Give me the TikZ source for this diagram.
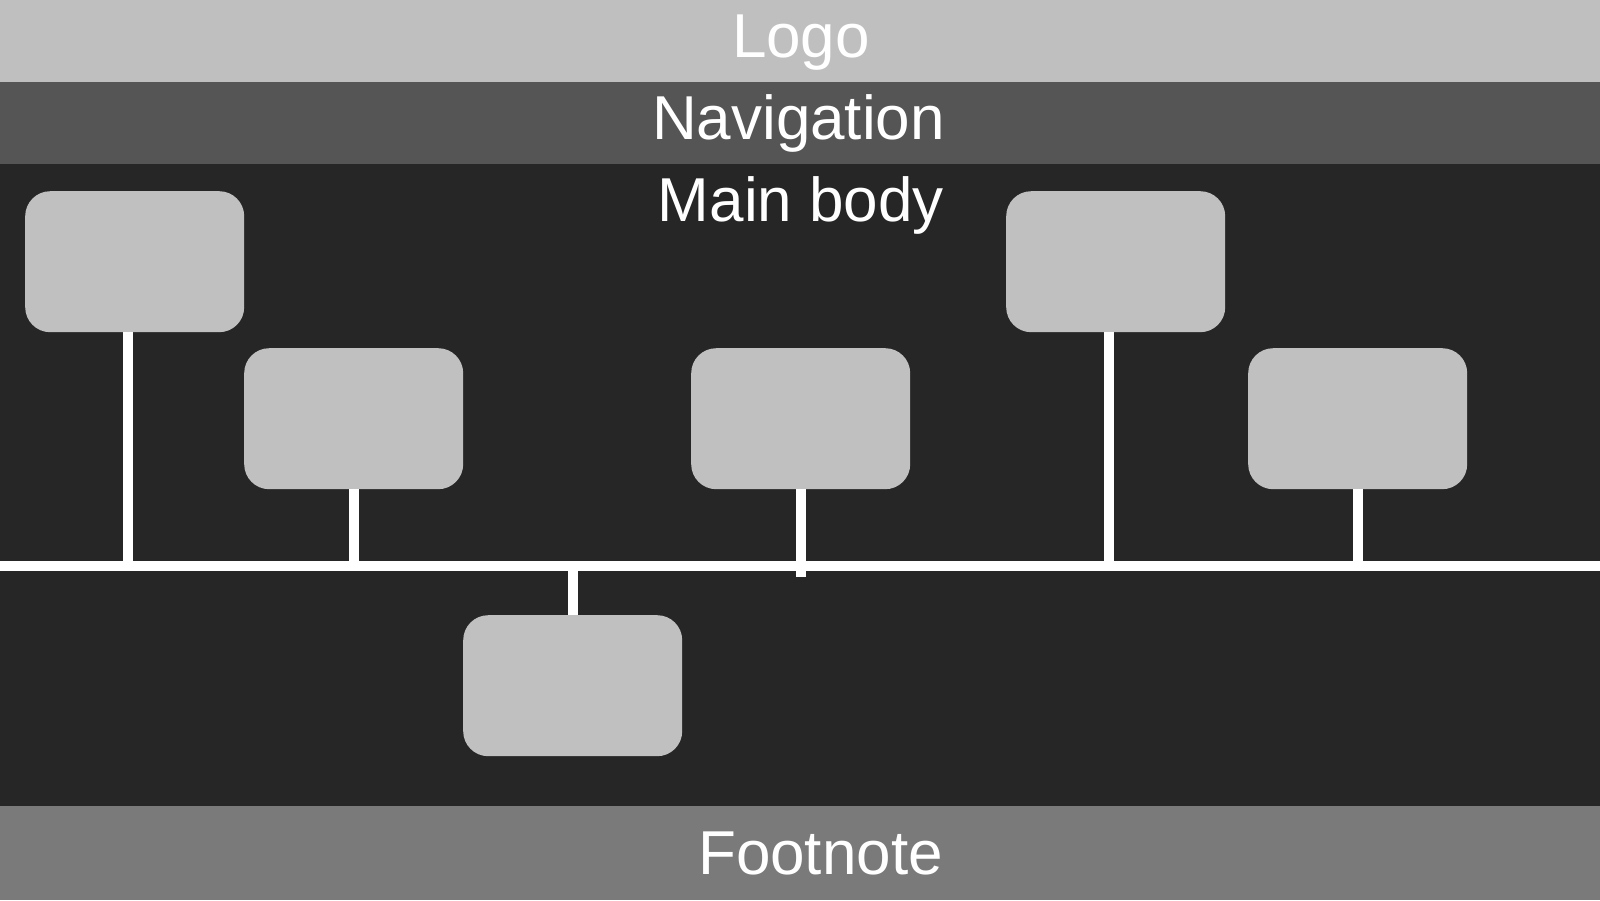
\documentclass[tikz,border=0pt]{standalone}
\usepackage{fontspec}
\setmainfont{Liberation Sans}
\usetikzlibrary{calc}
\definecolor{logobg}{RGB}{191,191,191}
\definecolor{navbg}{RGB}{85,85,85}
\definecolor{mainbg}{RGB}{38,38,38}
\definecolor{footbg}{RGB}{122,122,122}
\definecolor{boxfill}{RGB}{192,192,192}
\begin{document}
\begin{tikzpicture}[x=1pt,y=-1pt,
  card/.style={fill=boxfill, rounded corners=25pt, minimum width=219pt, minimum height=141pt, inner sep=0pt, anchor=north west},
  wire/.style={white, line width=10pt},
  bandtext/.style={text=white, font=\fontsize{62}{62}\selectfont, anchor=base, inner sep=0pt}]
\useasboundingbox (0,0) rectangle (1600,900);
% bands
\fill[logobg] (0,0) rectangle (1600,82);
\fill[navbg] (0,82) rectangle (1600,164);
\fill[mainbg] (0,164) rectangle (1600,806);
\fill[footbg] (0,806) rectangle (1600,900);
% texts
\node[bandtext] (logo) at (801,57) {Logo};
\node[bandtext] (nav) at (798.5,139) {Navigation};
\node[bandtext] (mainb) at (801,221) {Main body};
\node[bandtext] (foot) at (820.5,874) {Footnote};
% boxes
\node[card] (b1) at (25,191) {};
\node[card] (b2) at (244,348) {};
\node[card] (b3) at (691,348) {};
\node[card] (b4) at (1006,191) {};
\node[card] (b5) at (1248,348) {};
\node[card] (b7) at (463,615) {};
% bus
\coordinate (busL) at (0,566);
\coordinate (busR) at (1600,566);
\draw[wire] (busL) -- (busR);
% stems
\coordinate (s1) at ($(b1.south)+(-6.5,0)$);
\coordinate (s4) at ($(b4.south)+(-6.5,0)$);
\draw[wire] (s1) -- (s1 |- busL);
\draw[wire] (b2.south) -- (b2.south |- busL);
\draw[wire] (b3.south) -- ($(b3.south |- busL)+(0,11)$);
\draw[wire] (s4) -- (s4 |- busL);
\draw[wire] (b5.south) -- (b5.south |- busL);
\draw[wire] (b7.north) -- (b7.north |- busL);
\end{tikzpicture}
\end{document}
